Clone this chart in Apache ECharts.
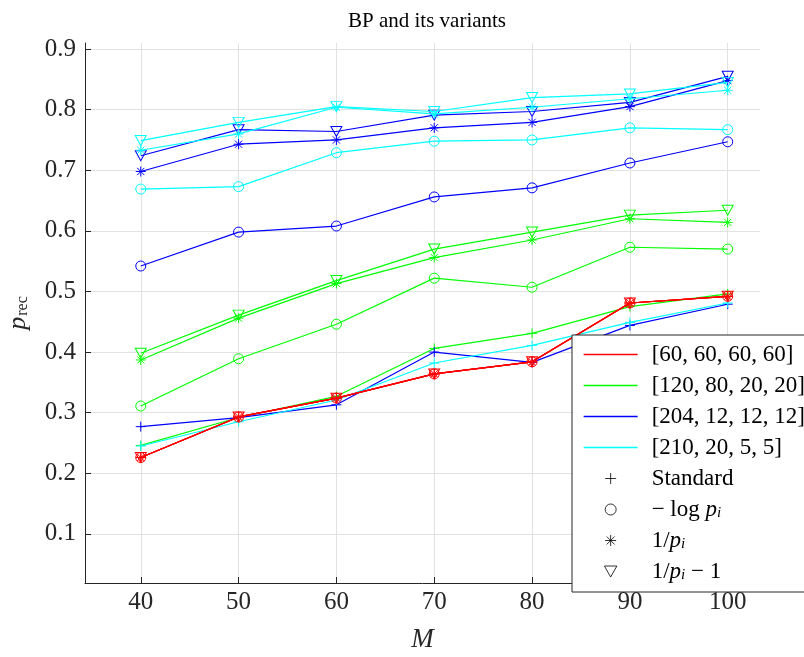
<!DOCTYPE html>
<html><head><meta charset="utf-8">
<script src="https://cdn.jsdelivr.net/npm/echarts@6/dist/echarts.min.js"></script>
<style>html,body{margin:0;padding:0;background:#fff}#c{width:804px;height:657px}</style>
</head><body><div id="c"></div>
<script>
const M = [40, 50, 60, 70, 80, 90, 100];
const yTicks = [0.1, 0.2, 0.3, 0.4, 0.5, 0.6, 0.7, 0.8, 0.9];

const redStd   = [0.226, 0.293, 0.324, 0.364, 0.384, 0.481, 0.492];
const redLog   = [0.226, 0.293, 0.324, 0.364, 0.384, 0.481, 0.492];
const redInv   = [0.226, 0.293, 0.324, 0.364, 0.384, 0.481, 0.492];
const redInvM1 = [0.226, 0.293, 0.324, 0.364, 0.384, 0.481, 0.492];

const greenStd   = [0.246, 0.292, 0.327, 0.406, 0.431, 0.475, 0.496];
const greenLog   = [0.311, 0.389, 0.446, 0.522, 0.507, 0.573, 0.570];
const greenInv   = [0.387, 0.456, 0.513, 0.556, 0.585, 0.620, 0.614];
const greenInvM1 = [0.398, 0.461, 0.518, 0.570, 0.598, 0.626, 0.634];

const blueStd   = [0.277, 0.292, 0.313, 0.400, 0.383, 0.444, 0.479];
const blueLog   = [0.542, 0.598, 0.608, 0.656, 0.671, 0.712, 0.747];
const blueInv   = [0.698, 0.743, 0.750, 0.770, 0.779, 0.805, 0.848];
const blueInvM1 = [0.724, 0.767, 0.764, 0.791, 0.797, 0.812, 0.855];

const cyanStd   = [0.245, 0.285, 0.321, 0.382, 0.411, 0.449, 0.481];
const cyanLog   = [0.669, 0.673, 0.729, 0.748, 0.750, 0.770, 0.767];
const cyanInv   = [0.733, 0.760, 0.804, 0.793, 0.804, 0.818, 0.832];
const cyanInvM1 = [0.749, 0.779, 0.805, 0.797, 0.820, 0.826, 0.845];

const configNames = ['[60, 60, 60, 60]', '[120, 80, 20, 20]', '[204, 12, 12, 12]', '[210, 20, 5, 5]'];
const variantNames = ['Standard', '-log p_i', '1/p_i', '1/p_i - 1'];

const SERIF = 'Liberation Serif';
const AX = '#262626';
const PLUS = 'path://M0,-5L0,5M-5,0L5,0';
const STAR = 'path://M0,-5L0,5M-5,0L5,0M-3.6,-3.6L3.6,3.6M-3.6,3.6L3.6,-3.6';
const TRI = 'path://M-5,-4.4L5,-4.4L0,4.4Z';
const symbols = [PLUS, 'circle', STAR, TRI];
const symSizes = [10, 10, 10, [11, 10]];

const groups = [
  {color: '#00ff00', sets: [greenStd, greenLog, greenInv, greenInvM1]},
  {color: '#0000ff', sets: [blueStd, blueLog, blueInv, blueInvM1]},
  {color: '#00ffff', sets: [cyanStd, cyanLog, cyanInv, cyanInvM1]},
  {color: '#ff0000', sets: [redStd, redLog, redInv, redInvM1]}
];

const series = [];
groups.forEach((g, gi) => {
  g.sets.forEach((vals, vi) => {
    series.push({
      type: 'line',
      name: 'd' + gi + '_' + vi,
      data: M.map((m, i) => [m, vals[i]]),
      symbol: symbols[vi],
      symbolSize: symSizes[vi],
      showAllSymbol: true,
      lineStyle: {color: g.color, width: 1.2},
      itemStyle: {color: 'rgba(0,0,0,0)', borderColor: g.color, borderWidth: 1},
      emphasis: {disabled: true},
      z: 2 + gi
    });
  });
});
// legend-only entries
const cfgColors = ['#ff0000', '#00ff00', '#0000ff', '#00ffff'];
configNames.forEach((n, i) => {
  series.push({type: 'line', name: n, data: [], symbol: 'none',
    lineStyle: {color: cfgColors[i], width: 1.3},
    itemStyle: {color: cfgColors[i]}});
});
variantNames.forEach((n, i) => {
  series.push({type: 'scatter', name: n, data: [], symbol: symbols[i], symbolSize: 10,
    itemStyle: {color: 'rgba(0,0,0,0)', borderColor: '#000', borderWidth: 1}});
});

const legendFmt = {
  'Standard': '{sp|}{t|Standard}',
  '-log p_i': '{sp|}{t|\u2212 log }{it|p}{sub|i}',
  '1/p_i': '{sp|}{t|1/}{it|p}{sub|i}',
  '1/p_i - 1': '{sp|}{t|1/}{it|p}{sub|i}{t| \u2212 1}'
};

const legendData = configNames.map((n, i) => ({name: n, itemStyle: {opacity: 0},
    lineStyle: {color: cfgColors[i], width: 1.3, opacity: 1}}))
  .concat(variantNames.map(n => ({name: n})));

const chart = echarts.init(document.getElementById('c'), null, {renderer: 'canvas'});
chart.setOption({
  animation: false,
  backgroundColor: '#fff',
  title: {
    text: 'BP and its variants',
    left: 422, top: 6, textAlign: 'center',
    textStyle: {fontFamily: SERIF, fontSize: 21, fontWeight: 'normal', color: '#000'}
  },
  grid: {left: 85, right: 44, top: 43, bottom: 74, containLabel: false, outerBoundsMode: 'none'},
  xAxis: {
    type: 'value', min: 34.3, max: 103.3,
    name: 'M', nameLocation: 'middle', nameGap: 43,
    nameTextStyle: {fontFamily: SERIF, fontStyle: 'italic', fontSize: 27, color: AX},
    axisLine: {show: true, onZero: false, lineStyle: {color: AX, width: 1}},
    axisTick: {show: true, inside: true, length: 6, customValues: M, lineStyle: {color: AX}},
    axisLabel: {customValues: M, fontFamily: SERIF, fontSize: 25, color: AX, margin: 7},
    splitLine: {show: true, lineStyle: {color: '#e2e2e2', width: 1}}
  },
  yAxis: {
    type: 'value', min: 0.019, max: 0.91,
    name: '{it|p}{sub|rec}', nameLocation: 'middle', nameGap: 54,
    nameTextStyle: {
      color: AX,
      rich: {
        it: {fontFamily: SERIF, fontStyle: 'italic', fontSize: 26, color: AX, lineHeight: 26},
        sub: {fontFamily: SERIF, fontSize: 16, color: AX, verticalAlign: 'bottom', lineHeight: 26, padding: [0, 0, 0, 1]}
      }
    },
    axisLine: {show: true, onZero: false, lineStyle: {color: AX, width: 1}},
    axisTick: {show: true, inside: true, length: 6, customValues: yTicks, lineStyle: {color: AX}},
    axisLabel: {customValues: yTicks, fontFamily: SERIF, fontSize: 25, color: AX, margin: 9,
      formatter: v => v.toFixed(1)},
    splitLine: {show: true, lineStyle: {color: '#e2e2e2', width: 1}}
  },
  legend: {
    show: true, orient: 'vertical', left: 572, top: 335,
    data: legendData,
    selectedMode: false,
    backgroundColor: '#fff', borderColor: AX, borderWidth: 1,
    padding: [8, 40, 9, 11], itemGap: 8, itemWidth: 54, itemHeight: 11,
    itemStyle: {borderWidth: 1},
    lineStyle: {width: 1.3},
    formatter: n => legendFmt[n] || ('{sp|}{t|' + n + '}'),
    textStyle: {
      fontFamily: SERIF, fontSize: 23, color: '#000',
      rich: {
        sp: {width: 9},
        t: {fontFamily: SERIF, fontSize: 23, color: '#000', lineHeight: 22},
        it: {fontFamily: SERIF, fontStyle: 'italic', fontSize: 23, color: '#000', lineHeight: 22},
        sub: {fontFamily: SERIF, fontStyle: 'italic', fontSize: 15, color: '#000', verticalAlign: 'bottom', lineHeight: 18}
      }
    },
    z: 10
  },
  series: series
});
</script></body></html>
